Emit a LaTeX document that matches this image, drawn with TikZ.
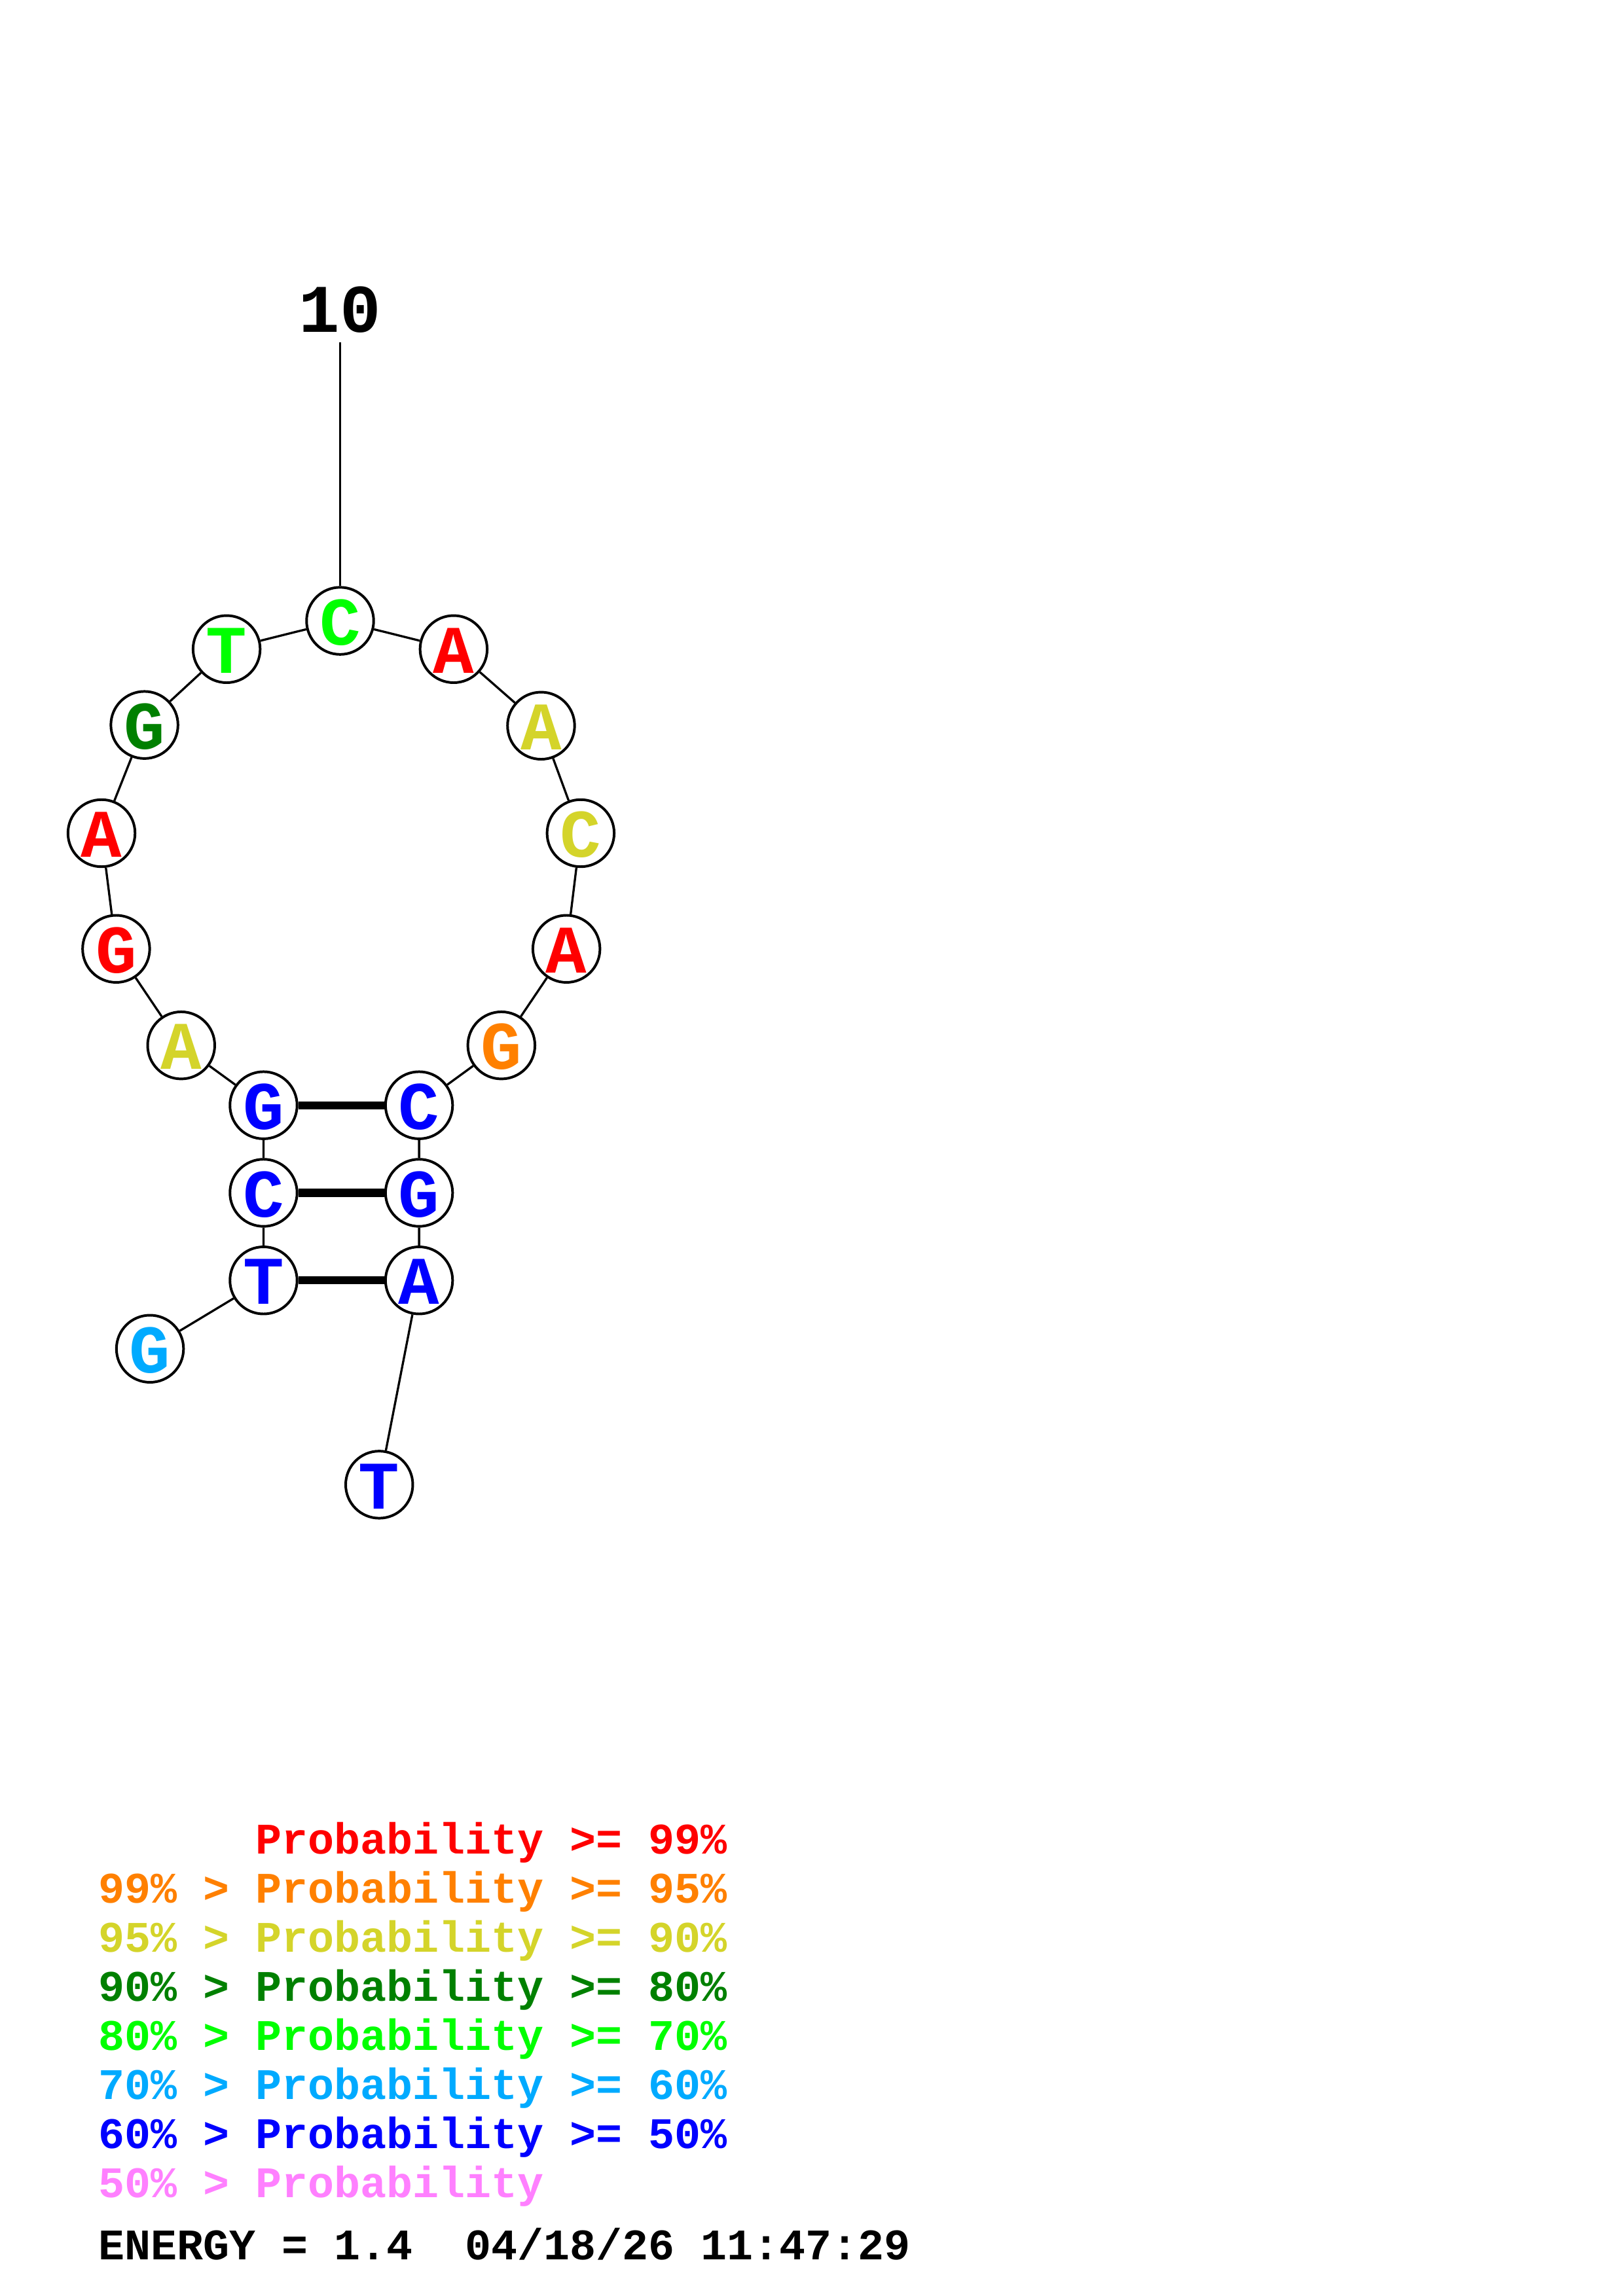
\documentclass[tikz,border=0pt]{standalone}
\usepackage{fontspec}
\usepackage{tikz}
\usetikzlibrary{positioning}
\newfontfamily\couriermono{Liberation Mono}
\definecolor{probA}{RGB}{255,0,0}
\definecolor{probB}{RGB}{255,128,0}
\definecolor{probC}{RGB}{212,212,42}
\definecolor{probD}{RGB}{0,128,0}
\definecolor{probE}{RGB}{0,255,0}
\definecolor{probF}{RGB}{0,170,255}
\definecolor{probG}{RGB}{0,0,255}
\definecolor{probH}{RGB}{255,128,255}

\begin{document}
\begin{tikzpicture}[x=0.537pt, y=-0.537pt,
  nt/.style={circle, draw, line width=0.95pt, minimum size=24.6pt, inner sep=0pt,
    font=\couriermono\bfseries\fontsize{25}{25}\selectfont, text height=17.6pt, text depth=0pt},
  backbone/.style={line width=0.8pt},
  bond/.style={line width=2.9pt},
  legend/.style={anchor=base west, inner sep=0pt, font=\couriermono\bfseries\fontsize{16}{18}\selectfont}]
\useasboundingbox (0,0) rectangle (1108,1568);

% loop
\node[nt, text=probF] (g1) at (102.4,921.1) {G};
\node[nt, text=probG] (t2) at (179.9,874.4) {T};
\node[nt, text=probG] (c3) at (179.9,814.6) {C};
\node[nt, text=probG] (g4) at (179.9,754.8) {G};
\node[nt, text=probC] (a5) at (123.7,713.9) {A};
\node[nt, text=probA] (g6) at (79.3,648.0) {G};
\node[nt, text=probA] (a7) at (69.3,569.0) {A};
\node[nt, text=probD] (g8) at (98.6,495.1) {G};
\node[nt, text=probE] (t9) at (154.7,443.3) {T};
\node[nt, text=probE] (c10) at (232.2,424.0) {C};
\node[nt, text=probA] (a11) at (309.7,443.3) {A};
\node[nt, text=probC] (a12) at (369.4,495.6) {A};
\node[nt, text=probC] (c13) at (396.4,569.0) {C};
\node[nt, text=probA] (a14) at (386.7,648.0) {A};
\node[nt, text=probB] (g15) at (342.3,713.9) {G};
\node[nt, text=probG] (c16) at (286.1,754.8) {C};
\node[nt, text=probG] (g17) at (286.1,814.6) {G};
\node[nt, text=probG] (a18) at (286.1,874.4) {A};
\node[nt, text=probG] (t19) at (258.9,1013.9) {T};

% position label
\node[anchor=base, inner sep=3.2pt, font=\couriermono\bfseries\fontsize{25}{25}\selectfont] (lab10) at (232.2,227) {10};
\draw[backbone] (c10) -- (lab10.south);

% backbone
\draw[backbone] (g1) -- (t2) -- (c3) -- (g4) -- (a5) -- (g6) -- (a7) -- (g8) -- (t9) -- (c10);
\draw[backbone] (c10) -- (a11) -- (a12) -- (c13) -- (a14) -- (g15) -- (c16) -- (g17) -- (a18) -- (t19);

% pairs
\draw[bond] (g4) -- (c16);
\draw[bond] (c3) -- (g17);
\draw[bond] (t2) -- (a18);

% legend
\node[legend, text=probA] (leg1) at (67,1266) {\hphantom{99\%~>~}Probability >= 99\%};
\node[legend, text=probB] (leg2) at (67,1299.5) {99\% > Probability >= 95\%};
\node[legend, text=probC] (leg3) at (67,1333) {95\% > Probability >= 90\%};
\node[legend, text=probD] (leg4) at (67,1366.5) {90\% > Probability >= 80\%};
\node[legend, text=probE] (leg5) at (67,1400) {80\% > Probability >= 70\%};
\node[legend, text=probF] (leg6) at (67,1433.5) {70\% > Probability >= 60\%};
\node[legend, text=probG] (leg7) at (67,1467) {60\% > Probability >= 50\%};
\node[legend, text=probH] (leg8) at (67,1500.5) {50\% > Probability};
\node[legend] (energy) at (67,1543) {ENERGY = 1.4~~04/18/26 11:47:29};
\end{tikzpicture}
\end{document}
